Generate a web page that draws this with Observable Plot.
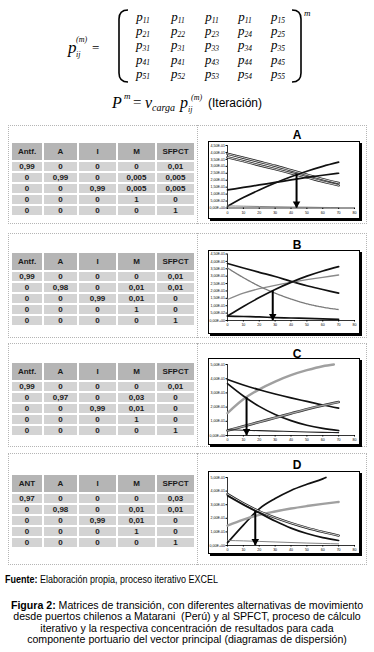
<!DOCTYPE html>
<html><head><meta charset="utf-8">
<script src="https://cdn.jsdelivr.net/npm/d3@7"></script>
<script src="https://cdn.jsdelivr.net/npm/@observablehq/plot@0.6"></script>
<style>
html,body{margin:0;padding:0;background:#fff;}
body{width:374px;height:652px;position:relative;overflow:hidden;font-family:"Liberation Sans",Arial,sans-serif;color:#000;}
.row{position:absolute;left:8px;width:359px;border:1px dotted #b5b5b5;box-sizing:border-box;}
.div{position:absolute;left:197px;border-left:1px dotted #b5b5b5;}
table.m{position:absolute;left:10px;border-collapse:separate;border-spacing:2px;font:bold 8px "Liberation Sans",Arial,sans-serif;color:#1a1a1a;}
table.m th{height:17px;background:#b5b5b5;padding:0;text-align:center;font-weight:bold;}
table.m td{height:9px;line-height:9px;background:#d3d3d3;padding:0;text-align:center;}
.ttl{position:absolute;left:290px;width:14px;text-align:center;font:bold 12px "Liberation Sans",Arial,sans-serif;line-height:12px;}
.box{position:absolute;left:208px;width:150px;border:1px solid #000;box-shadow:2px 2px 0 #000;background:#fff;}
.box svg{display:block;}
#fuente{position:absolute;left:5px;top:574px;font:10px "Liberation Sans",Arial,sans-serif;white-space:nowrap;transform:scaleX(0.9);transform-origin:0 0;}
#cap{position:absolute;left:0;width:374px;top:600px;text-align:center;font:10.6px "Liberation Sans",Arial,sans-serif;line-height:11.4px;}
</style></head>
<body>
<svg id="formula" width="374" height="120" style="position:absolute;left:0;top:0"></svg>
<div id="panels"></div>
<div id="fuente"><b>Fuente:</b> Elaboración propia, proceso iterativo EXCEL</div>
<div id="cap"><b>Figura 2:</b> Matrices de transición, con diferentes alternativas de movimiento<br>desde puertos chilenos a Matarani&nbsp; (Perú) y al SPFCT, proceso de cálculo<br>iterativo y la respectiva concentración de resultados para cada<br>componente portuario del vector principal (diagramas de dispersión)</div>
<script>
// ---------- data ----------
const matrixLabels = [
  ["11","11","11","11","15"],
  ["21","22","23","24","25"],
  ["31","31","33","34","35"],
  ["41","41","43","44","45"],
  ["51","52","53","54","55"]
];
const headersABC = ["Antf.","A","I","M","SFPCT"];
const headersD = ["ANT","A","I","M","SFPCT"];
const matrixA = [[0.99,0,0,0,0.01],[0,0.99,0,0.005,0.005],[0,0,0.99,0.005,0.005],[0,0,0,1,0],[0,0,0,0,1]];
const matrixB = [[0.99,0,0,0,0.01],[0,0.98,0,0.01,0.01],[0,0,0.99,0.01,0],[0,0,0,1,0],[0,0,0,0,1]];
const matrixC = [[0.99,0,0,0,0.01],[0,0.97,0,0.03,0],[0,0,0.99,0.01,0],[0,0,0,1,0],[0,0,0,0,1]];
const matrixD = [[0.97,0,0,0,0.03],[0,0.98,0,0.01,0.01],[0,0,0.99,0.01,0],[0,0,0,1,0],[0,0,0,0,1]];

const xSteps = [0,10,20,30,40,50,60,70];
const xTicks = [0,10,20,30,40,50,60,70,80];
const yTicksAB = [0,0.05,0.1,0.15,0.2,0.25,0.3,0.35,0.4,0.45];
const yTicksCD = [0,0.1,0.2,0.3,0.4,0.5];

const aSeries1 = [0.39,0.362,0.333,0.304,0.272,0.24,0.208,0.18];
const aSeries2 = [0.365,0.337,0.308,0.28,0.25,0.22,0.19,0.163];
const aSeries3 = [0.13,0.148,0.166,0.184,0.202,0.22,0.236,0.25];
const aSeries4 = [0.012,0.075,0.13,0.18,0.225,0.265,0.3,0.33];
const aSeries5 = [0.015,0.013,0.011,0.009,0.007,0.006,0.004,0.003];

const bSeries1 = [0.386,0.355,0.326,0.298,0.265,0.235,0.21,0.185];
const bSeries2 = [0.355,0.29,0.232,0.185,0.145,0.113,0.09,0.074];
const bSeries3 = [0.142,0.185,0.215,0.238,0.258,0.276,0.292,0.308];
const bSeries4 = [0.03,0.095,0.155,0.21,0.258,0.3,0.335,0.365];
const bSeries5 = [0.03,0.027,0.024,0.02,0.017,0.014,0.011,0.008];

const cX1 = [0,10,20,30,40,50,60,67];
const cSeries1 = [0.158,0.255,0.325,0.38,0.425,0.46,0.488,0.5];
const cSeries2 = [0.394,0.356,0.322,0.292,0.265,0.24,0.215,0.193];
const cSeries3 = [0.365,0.278,0.205,0.148,0.105,0.072,0.05,0.035];
const cSeries4 = [0.035,0.065,0.095,0.125,0.155,0.185,0.212,0.236];
const cSeries5 = [0.04,0.037,0.034,0.031,0.028,0.025,0.022,0.02];

const dX1 = [0,10,20,30,40,50,60,62];
const dSeries1 = [0.02,0.15,0.27,0.345,0.405,0.45,0.49,0.5];
const dSeries2 = [0.146,0.19,0.225,0.25,0.272,0.29,0.306,0.32];
const dSeries3 = [0.378,0.31,0.252,0.205,0.165,0.13,0.1,0.073];
const dSeries4 = [0.366,0.3,0.24,0.18,0.128,0.088,0.058,0.037];
const dSeries5 = [0.037,0.034,0.03,0.026,0.022,0.018,0.015,0.012];

const arrowX = [43.5, 28.5, 12, 17.5];
const arrowTop = [0.245, 0.2, 0.266, 0.25];
const panelNames = ["A","B","C","D"];

// ---------- styles ----------
const lineStyles = {
  black:      [{stroke:"#111", w:1.7}],
  blackThin:  [{stroke:"#222", w:1.1}],
  grey:       [{stroke:"#8a8a8a", w:1.3}],
  greyDot:    [{stroke:"#7a7a7a", w:1.3, dash:"1.6,0.8"}],
  greyThick:  [{stroke:"#a0a0a0", w:2.4}],
  greyThin:   [{stroke:"#777", w:0.9}],
  double:     [{stroke:"#222", w:2.4},{stroke:"#e6e6e6", w:0.9}],
  greyDouble: [{stroke:"#333", w:2.6},{stroke:"#a5a5a5", w:1.3}]
};

const panels = [
  {matrix:matrixA, headers:headersABC, tableTop:141, rowTop:125, rowH:99, titleTop:129, boxTop:141, boxH:76, mt:3, mb:10.5, yMax:0.45, yTicks:yTicksAB,
   series:[{xs:xSteps,ys:aSeries1,st:"double"},{xs:xSteps,ys:aSeries2,st:"double"},{xs:xSteps,ys:aSeries3,st:"black"},{xs:xSteps,ys:aSeries4,st:"black"},{xs:xSteps,ys:aSeries5,st:"greyThin"}]},
  {matrix:matrixB, headers:headersABC, tableTop:251, rowTop:233, rowH:105, titleTop:239, boxTop:250, boxH:82, mt:2.5, mb:13, yMax:0.45, yTicks:yTicksAB,
   series:[{xs:xSteps,ys:bSeries1,st:"black"},{xs:xSteps,ys:bSeries2,st:"greyDot"},{xs:xSteps,ys:bSeries3,st:"grey"},{xs:xSteps,ys:bSeries4,st:"black"},{xs:xSteps,ys:bSeries5,st:"black"}]},
  {matrix:matrixC, headers:headersABC, tableTop:361, rowTop:343, rowH:104, titleTop:348, boxTop:358, boxH:85, mt:5, mb:9, yMax:0.5, yTicks:yTicksCD,
   series:[{xs:cX1,ys:cSeries1,st:"greyThick"},{xs:xSteps,ys:cSeries2,st:"black"},{xs:xSteps,ys:cSeries3,st:"black"},{xs:xSteps,ys:cSeries4,st:"greyDouble"},{xs:xSteps,ys:cSeries5,st:"blackThin"}]},
  {matrix:matrixD, headers:headersD, tableTop:473, rowTop:453, rowH:112, titleTop:459, boxTop:471, boxH:81, mt:5, mb:8, yMax:0.5, yTicks:yTicksCD,
   series:[{xs:dX1,ys:dSeries1,st:"black"},{xs:xSteps,ys:dSeries2,st:"greyThick"},{xs:xSteps,ys:dSeries3,st:"double"},{xs:xSteps,ys:dSeries4,st:"black"},{xs:xSteps,ys:dSeries5,st:"greyThin"}]}
];

// ---------- formula ----------
const NS = "http://www.w3.org/2000/svg";
const fsvg = document.getElementById("formula");
function txt(x, y, str, size, opts = {}) {
  const t = document.createElementNS(NS, "text");
  t.setAttribute("x", x); t.setAttribute("y", y);
  t.setAttribute("font-size", size);
  t.setAttribute("font-family", opts.sans ? "Liberation Sans, Arial, sans-serif" : "Liberation Serif, Times New Roman, serif");
  if (!opts.upright) t.setAttribute("font-style", "italic");
  if (opts.anchor) t.setAttribute("text-anchor", opts.anchor);
  t.textContent = str;
  fsvg.appendChild(t);
  return t;
}
txt(68, 53, "p", 17);
txt(76, 42, "(m)", 8);
txt(76, 57, "ij", 8);
txt(92, 52, "=", 13, {upright:true});
const colX = [143,178,212,245,278];
const rowY = [21,35.2,49.4,63.6,77.8];
matrixLabels.forEach((r, i) => r.forEach((lab, j) => {
  const t = txt(colX[j], rowY[i], "p", 13, {anchor:"middle"});
  const s = document.createElementNS(NS, "tspan");
  s.setAttribute("font-size", 7.5); s.setAttribute("dy", 1.5);
  s.textContent = lab; t.appendChild(s);
}));
[["M128,10 Q119,10 119,19 L119,73 Q119,82 128,82"],["M292,10 Q301,10 301,19 L301,73 Q301,82 292,82"]].forEach(([d]) => {
  const p = document.createElementNS(NS, "path");
  p.setAttribute("d", d); p.setAttribute("fill", "none"); p.setAttribute("stroke", "#000"); p.setAttribute("stroke-width", 1.6);
  fsvg.appendChild(p);
});
txt(304, 16, "m", 9);
txt(112, 108, "P", 16);
txt(124, 99, "m", 9);
txt(133, 107, "=", 15, {upright:true});
txt(145, 108, "v", 16);
txt(152, 111, "carga", 10);
txt(180, 108, "p", 16);
txt(188, 112, "ij", 8);
txt(191, 100, "(m)", 8);
txt(208, 107, "(Iteración)", 12, {sans:true, upright:true});

// ---------- panels ----------
const sci = v => {
  if (Math.abs(v) < 1e-12) return "0,00E+00";
  const e = Math.floor(Math.log10(Math.abs(v)) + 1e-9);
  const m = v / Math.pow(10, e);
  return m.toFixed(2).replace(".", ",") + "E" + (e < 0 ? "-" : "+") + String(Math.abs(e)).padStart(2, "0");
};
const fmtCell = v => String(v).replace(".", ",");
const root = document.getElementById("panels");

panels.forEach((p, pi) => {
  const row = document.createElement("div");
  row.className = "row"; row.style.top = p.rowTop + "px"; row.style.height = p.rowH + "px";
  root.appendChild(row);
  const dv = document.createElement("div");
  dv.className = "div"; dv.style.top = p.rowTop + "px"; dv.style.height = p.rowH + "px";
  root.appendChild(dv);

  const tb = document.createElement("table");
  tb.className = "m"; tb.style.top = p.tableTop + "px";
  const widths = [30,33,37,37,37];
  let html = "<tr>" + p.headers.map((h, j) => `<th style="width:${widths[j]}px">${h}</th>`).join("") + "</tr>";
  p.matrix.forEach(r => { html += "<tr>" + r.map(v => `<td>${fmtCell(v)}</td>`).join("") + "</tr>"; });
  tb.innerHTML = html;
  root.appendChild(tb);

  const t = document.createElement("div");
  t.className = "ttl"; t.style.top = p.titleTop + "px"; t.textContent = panelNames[pi];
  root.appendChild(t);

  const rows = [];
  p.series.forEach((s, k) => s.ys.forEach((y, j) => rows.push({x: s.xs[j], y, k})));
  const marks = [Plot.ruleY([0], {stroke:"#000", strokeWidth:0.8}), Plot.ruleX([0], {stroke:"#000", strokeWidth:0.8})];
  p.series.forEach((s, k) => {
    lineStyles[s.st].forEach(ls => {
      marks.push(Plot.line(rows.filter(r => r.k === k), {x:"x", y:"y", stroke:ls.stroke, strokeWidth:ls.w, strokeDasharray:ls.dash, curve:"monotone-x"}));
    });
  });
  const arrow = [{x: arrowX[pi], top: arrowTop[pi]}];
  marks.push(Plot.ruleX(arrow, {x:"x", y1:"top", y2:0, stroke:"#000", strokeWidth:2}));
  marks.push(Plot.dot(arrow, {x:"x", y:() => 0, symbol:"triangle", r:2.8, rotate:180, fill:"#000", stroke:"none", dy:-4.3}));

  const chart = Plot.plot({
    width: 150, height: p.boxH,
    marginLeft: 18, marginRight: 5, marginTop: p.mt, marginBottom: p.mb,
    style: {fontSize:"3.6px", fontFamily:"Liberation Sans, Arial, sans-serif", background:"#fff", color:"#000", overflow:"visible"},
    x: {domain:[0,80], ticks:xTicks, tickFormat:d => String(d), tickSize:1.5, tickPadding:1.5, label:null},
    y: {domain:[0,p.yMax], ticks:p.yTicks, tickFormat:sci, tickSize:1.5, tickPadding:1, label:null},
    marks
  });
  const box = document.createElement("div");
  box.className = "box"; box.style.top = p.boxTop + "px"; box.style.height = p.boxH + "px";
  box.appendChild(chart);
  root.appendChild(box);
});
</script>
</body></html>
